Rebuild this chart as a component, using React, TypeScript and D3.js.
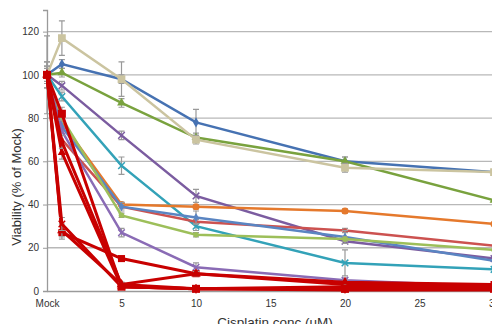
import React, { useEffect, useRef } from 'react';
import * as d3 from 'd3';

// concentrations (uM), Mock = 0
const conc = [0, 1, 5, 10, 20, 30];
const xTicks = [0, 5, 10, 15, 20, 25, 30];
const yTicks = [0, 20, 40, 60, 80, 100, 120];

// viability (% of Mock) per line
const blueVals = [100, 105, 98, 78, 60, 55];
const greenVals = [100, 101, 87, 71, 60, 42];
const tanVals = [100, 117, 98, 70, 57, 55];
const purpleVals = [100, 95, 72, 44, 23, 15];
const tealVals = [100, 90, 58, 30, 13, 10];
const orangeVals = [100, 78, 40, 39, 37, 31];
const redVals = [100, 70, 39, 32, 28, 21];
const lightBlueVals = [100, 76, 39, 34, 25, 14];
const lightGreenVals = [100, 80, 35, 26, 24, 19];
const violetVals = [100, 74, 27, 11, 5, 2];
const crimson1Vals = [100, 82, 2, 1, 1, 1];
const crimson2Vals = [100, 69, 3, 1, 1, 1];
const crimson3Vals = [100, 64, 2, 1, 0.5, 0.5];
const crimson4Vals = [100, 31, 2, 1, 2, 2];
const crimson5Vals = [100, 28, 3, 8, 4, 3];
const crimson6Vals = [100, 27, 15, 8, 3, 3];

// error bars (+/-)
const blueErr = [6, 2, 2, 6, 2, 0];
const greenErr = [3, 2, 2, 2, 2, 0];
const tanErr = [18, 8, 8, 2, 2, 0];
const purpleErr = [4, 2, 2, 3, 1, 0];
const tealErr = [4, 2, 4, 2, 6, 0];
const orangeErr = [0, 0, 1, 1, 1, 0];
const redErr = [0, 0, 1, 1, 1, 0];
const lightBlueErr = [6, 2, 2, 3, 3, 0];
const lightGreenErr = [0, 0, 1, 1, 1, 0];
const violetErr = [0, 0, 2, 2, 1, 0];
const crimsonErr = [0, 3, 1, 1, 1, 0];

const series = [
  { vals: blueVals, err: blueErr, color: '#4672b2', sym: d3.symbolDiamond, size: 30 },
  { vals: greenVals, err: greenErr, color: '#79a23e', sym: d3.symbolTriangle, size: 34 },
  { vals: tanVals, err: tanErr, color: '#cbc4a0', sym: d3.symbolSquare, size: 60 },
  { vals: purpleVals, err: purpleErr, color: '#7b5ca0', sym: d3.symbolX, size: 30 },
  { vals: tealVals, err: tealErr, color: '#33a2b8', sym: d3.symbolX, size: 30 },
  { vals: orangeVals, err: orangeErr, color: '#e5792c', sym: d3.symbolCircle, size: 40 },
  { vals: redVals, err: redErr, color: '#cc5250', sym: d3.symbolCircle, size: 14 },
  { vals: lightBlueVals, err: lightBlueErr, color: '#5a85c2', sym: d3.symbolDiamond, size: 24 },
  { vals: lightGreenVals, err: lightGreenErr, color: '#9dbf5a', sym: d3.symbolCircle, size: 24 },
  { vals: violetVals, err: violetErr, color: '#8a6bb5', sym: d3.symbolX, size: 30 },
  { vals: crimson6Vals, err: crimsonErr, color: '#c80000', sym: d3.symbolSquare, size: 50 },
  { vals: crimson5Vals, err: crimsonErr, color: '#c80000', sym: d3.symbolTriangle, size: 40 },
  { vals: crimson4Vals, err: crimsonErr, color: '#c80000', sym: d3.symbolX, size: 30 },
  { vals: crimson3Vals, err: crimsonErr, color: '#c80000', sym: d3.symbolTriangle, size: 30 },
  { vals: crimson2Vals, err: crimsonErr, color: '#c80000', sym: d3.symbolDiamond, size: 30 },
  { vals: crimson1Vals, err: crimsonErr, color: '#c80000', sym: d3.symbolSquare, size: 64 },
];

const W = 492, H = 324;

const App = () => {
  const ref = useRef<SVGSVGElement>(null);

  useEffect(() => {
    const svg = d3.select(ref.current);
    svg.selectAll('*').remove();

    const x = d3.scaleLinear().domain([0, 30]).range([47, 494]);
    const y = d3.scaleLinear().domain([0, 130]).range([291, 10]);
    const font = '"Liberation Sans", Arial, sans-serif';

    // gridlines
    svg.append('g')
      .selectAll('line')
      .data(yTicks.filter(d => d > 0))
      .enter().append('line')
      .attr('x1', x(0)).attr('x2', W)
      .attr('y1', d => y(d)).attr('y2', d => y(d))
      .attr('stroke', '#b8b8b8').attr('stroke-width', 1.3);

    // y axis
    const yAxis = svg.append('g')
      .attr('transform', `translate(${x(0)},0)`)
      .call(d3.axisLeft(y).tickValues(yTicks).tickSize(4).tickPadding(4));
    yAxis.select('.domain').attr('stroke', '#9a9a9a').attr('stroke-width', 1.3);
    yAxis.selectAll('.tick line').attr('stroke', '#9a9a9a');
    yAxis.selectAll('text').attr('font-family', font).attr('font-size', 10).attr('fill', '#333');

    // x axis
    const xAxis = svg.append('g')
      .attr('transform', `translate(0,${y(0)})`)
      .call(d3.axisBottom(x).tickValues(xTicks).tickSize(0).tickPadding(9)
        .tickFormat(d => (d === 0 ? 'Mock' : String(d))));
    xAxis.select('.domain').attr('stroke', '#9a9a9a').attr('stroke-width', 1.3);
    xAxis.selectAll('text').attr('font-family', font).attr('font-size', 10).attr('fill', '#333');

    // titles
    svg.append('text')
      .attr('transform', `translate(21,187) rotate(-90)`)
      .attr('text-anchor', 'middle')
      .attr('font-family', font).attr('font-size', 13).attr('fill', '#333')
      .text('Viability (% of Mock)');
    svg.append('text')
      .attr('x', 275).attr('y', 327)
      .attr('text-anchor', 'middle')
      .attr('font-family', font).attr('font-size', 13.5).attr('fill', '#333')
      .text('Cisplatin conc (uM)');

    const line = d3.line<number>().x((d, i) => x(conc[i])).y(d => y(d));

    series.forEach(s => {
      const g = svg.append('g');
      // error bars
      g.selectAll('.err')
        .data(s.vals.map((v, i) => ({ v, e: s.err[i], c: conc[i] })).filter(d => d.e > 0))
        .enter().append('path')
        .attr('d', d => {
          const cx = x(d.c), t = y(d.v + d.e), b = y(d.v - d.e);
          return `M${cx - 3},${t}H${cx + 3}M${cx},${t}V${b}M${cx - 3},${b}H${cx + 3}`;
        })
        .attr('stroke', '#999').attr('stroke-width', 1.2).attr('fill', 'none');

      g.append('path')
        .datum(s.vals)
        .attr('d', line)
        .attr('stroke', s.color)
        .attr('stroke-width', s.color === '#c80000' ? 3 : 2.5)
        .attr('fill', 'none');

      g.selectAll('.pt')
        .data(s.vals)
        .enter().append('path')
        .attr('transform', (d, i) => `translate(${x(conc[i])},${y(d)})`)
        .attr('d', d3.symbol().type(s.sym).size(s.size)())
        .attr('fill', s.color)
        .attr('stroke', s.color)
        .attr('stroke-width', s.sym === d3.symbolX ? 1.5 : 0);
    });
  }, []);

  return <svg ref={ref} width={W} height={H} style={{ position: 'absolute', left: 0, top: 0, background: '#fff' }} />;
};

export default App;
